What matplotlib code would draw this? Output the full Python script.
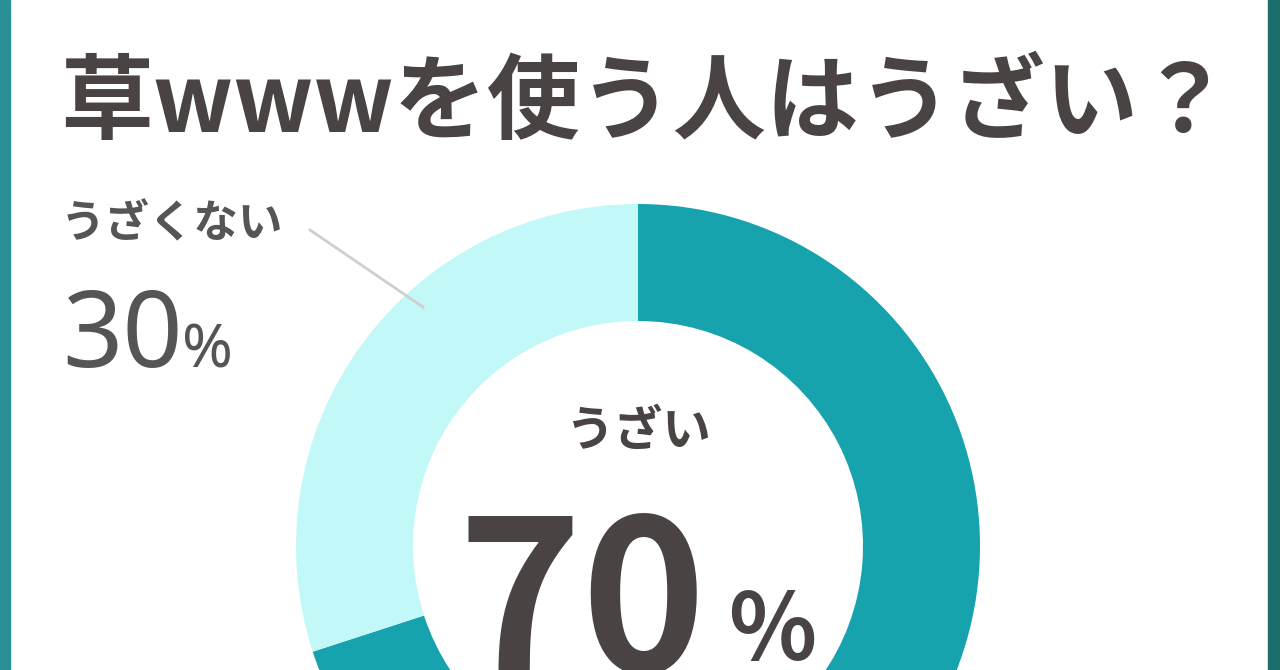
import matplotlib.pyplot as plt
from matplotlib.patches import Rectangle

plt.rcParams["font.family"] = ["Noto Sans CJK JP", "DejaVu Sans"]

# data
title = "草wwwを使う人はうざい？"
labels = ["うざい", "うざくない"]
values = [70, 30]
colors = ["#17A3AD", "#C3F8F8"]

W, H = 1280, 670
fig = plt.figure(figsize=(12.8, 6.7), dpi=100)
ax = fig.add_axes([0, 0, 1, 1])

# donut
cx, cy, R = 638, H - 546, 342
ax.pie(values, colors=colors, startangle=90, counterclock=False,
       center=(cx, cy), radius=R, frame=True,
       wedgeprops=dict(width=117, linewidth=0))
ax.set_xlim(0, W)
ax.set_ylim(0, H)
ax.set_aspect("auto")
ax.axis("off")

# side frame
ax.add_patch(Rectangle((0, 0), 10, H, color="#2A9097", zorder=5))
ax.add_patch(Rectangle((W - 12, 0), 12, H, color="#1C6D6C", zorder=5))

dark = "#4A4343"
gray = "#555555"

ax.text(60, H - 104, title, fontsize=67, fontweight="bold", color=dark,
        ha="left", va="center")

# centre label
ax.text(639, H - 431, labels[0], fontsize=35, fontweight="bold", color=dark,
        ha="center", va="center")
ax.text(707, H - 672, f"{values[0]}", fontsize=152, fontweight="bold",
        color=dark, ha="right", va="baseline")
ax.text(728, H - 660, "%", fontsize=66, fontweight="bold", color=dark,
        ha="left", va="baseline")

# outside label
ax.text(61, H - 224, labels[1], fontsize=32, fontweight="bold", color=gray,
        ha="left", va="center")
ax.text(62, H - 367, f"{values[1]}", fontsize=76, fontweight="light",
        color=gray, ha="left", va="baseline",
        family=["Noto Sans", "DejaVu Sans"])
ax.text(182, H - 367, "%", fontsize=44, fontweight="light", color=gray,
        ha="left", va="baseline", family=["Noto Sans", "DejaVu Sans"])
ax.plot([310, 423], [H - 230, H - 307], color="#CFCFCF", lw=2, zorder=3)

fig.savefig("out.png", dpi=100, facecolor="white")
